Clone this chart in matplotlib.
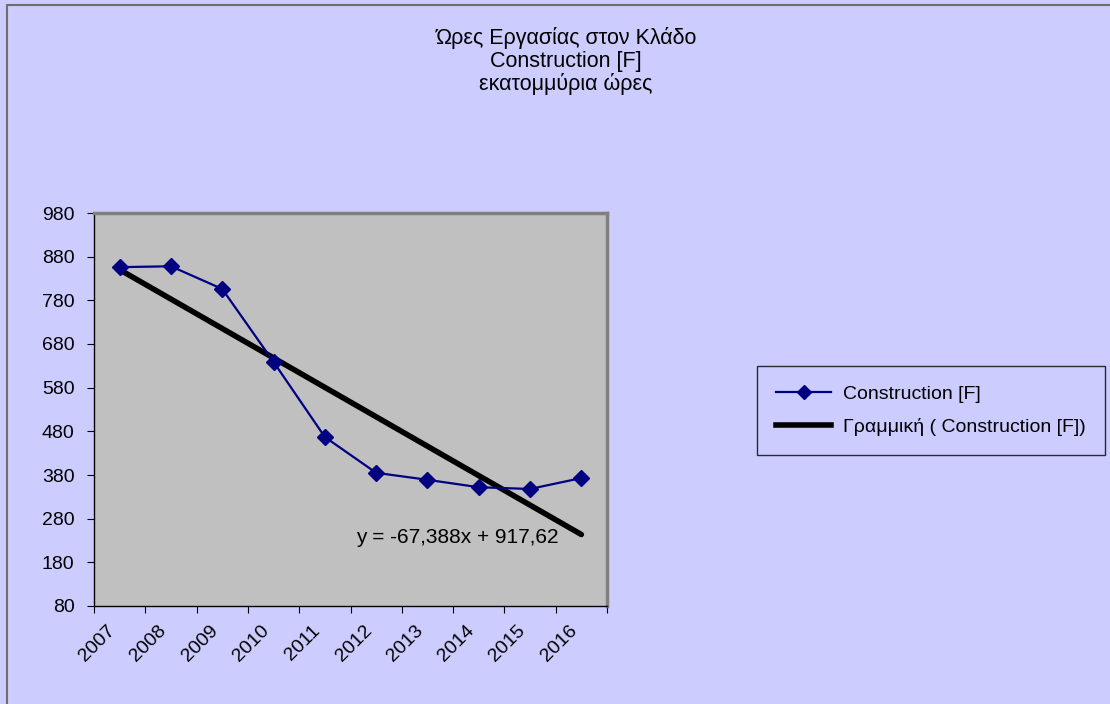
import matplotlib.pyplot as plt
import matplotlib.transforms as mtransforms
from matplotlib.lines import Line2D
from matplotlib.patches import Rectangle

plt.rcParams['font.family'] = ['Liberation Sans', 'DejaVu Sans']

years = ['2007', '2008', '2009', '2010', '2011', '2012', '2013', '2014', '2015', '2016']
hours = [856, 858, 806, 639, 467, 385, 369, 352, 348, 373]

slope = -67.388
intercept = 917.62

y_ticks = [80, 180, 280, 380, 480, 580, 680, 780, 880, 980]

fig = plt.figure(figsize=(11.1, 7.04), dpi=100)
fig.patch.set_facecolor('#CCCCFF')

# outer chart border (only left/top visible in the original)
fig.add_artist(Rectangle((7 / 1110, -0.1), 1.5, 1.1 - 5 / 704, transform=fig.transFigure,
                         fill=False, edgecolor='#6E6E6E', linewidth=1.5))

ax = fig.add_axes([94 / 1110, 1 - 606 / 704, (607 - 94) / 1110, (606 - 213) / 704])
ax.set_facecolor('#C0C0C0')

xs = list(range(len(years)))
ax.plot(xs, hours, color='#000080', linewidth=1.6, marker='D', markersize=8,
        label='Construction [F]', zorder=3)

# linear trendline from the equation shown on the chart (x = 1..10)
trend = [slope * (i + 1) + intercept for i in xs]
ax.plot(xs, trend, color='black', linewidth=4, solid_capstyle='round',
        label='Γραμμική ( Construction [F])', zorder=2)

ax.text(0.905, 0.175, 'y = -67,388x + 917,62', transform=ax.transAxes,
        ha='right', va='center', fontsize=15)

ax.set_xlim(-0.5, len(years) - 0.5)
ax.set_ylim(y_ticks[0], y_ticks[-1])
ax.set_yticks(y_ticks)
ax.tick_params(axis='y', labelsize=14, length=5, direction='out', pad=9)

ax.set_xticks([i - 0.5 for i in range(len(years) + 1)])
ax.set_xticklabels([])
ax.tick_params(axis='x', which='major', length=5)
ax.set_xticks(xs, minor=True)
ax.set_xticklabels(years, minor=True, rotation=45, ha='right', va='center',
                   rotation_mode='anchor', fontsize=14)
ax.tick_params(axis='x', which='minor', length=0, pad=16)
shift = mtransforms.ScaledTranslation(-7 / 100, 0, fig.dpi_scale_trans)
for lbl in ax.get_xticklabels(minor=True):
    lbl.set_transform(lbl.get_transform() + shift)

for side in ['top', 'right']:
    ax.spines[side].set_color('#808080')
    ax.spines[side].set_linewidth(2.5)
for side in ['left', 'bottom']:
    ax.spines[side].set_color('black')
    ax.spines[side].set_linewidth(1)

title_x = 566 / 1110
fig.text(title_x, 1 - 38 / 704, 'Ώρες Εργασίας στον Κλάδο', ha='center', va='center', fontsize=15.5)
fig.text(title_x, 1 - 61 / 704, 'Construction [F]', ha='center', va='center', fontsize=15.5)
fig.text(title_x, 1 - 84 / 704, 'εκατομμύρια ώρες', ha='center', va='center', fontsize=15.5)

handles = [
    Line2D([], [], color='#000080', linewidth=1.6, marker='D', markersize=7),
    Line2D([], [], color='black', linewidth=4),
]
leg = fig.legend(handles, ['Construction [F]', 'Γραμμική ( Construction [F])'],
                 loc='upper left', bbox_to_anchor=(757 / 1110, 1 - 366 / 704),
                 fontsize=14, frameon=True, fancybox=False, handlelength=2.8,
                 handletextpad=0.6, labelspacing=0.75, borderpad=1.0, borderaxespad=0)
leg.get_frame().set_edgecolor('black')
leg.get_frame().set_facecolor('#CCCCFF')
leg.get_frame().set_linewidth(1)

fig.savefig('out.png', dpi=100, facecolor=fig.get_facecolor())
